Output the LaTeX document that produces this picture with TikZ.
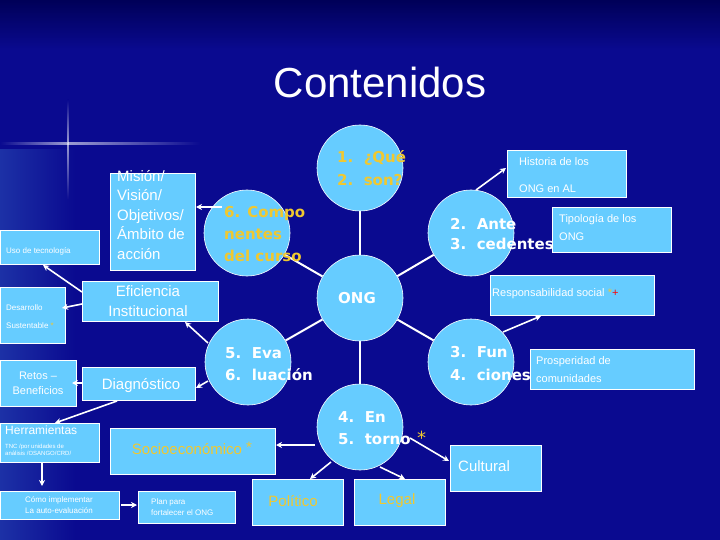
\documentclass[tikz,border=0pt]{standalone}
\usepackage{fontspec}
\setmainfont{DejaVu Sans}
\newfontfamily\lib{Liberation Sans}
\usetikzlibrary{arrows.meta}
\definecolor{navy}{HTML}{0A0A90}
\definecolor{navytop}{HTML}{000058}
\definecolor{lb}{HTML}{66CCFF}
\definecolor{yel}{HTML}{F0C830}
\tikzset{
 box/.style={fill=lb,draw=white,line width=0.6pt,anchor=north west,inner sep=0pt},
 circ/.style={circle,fill=lb,draw=white,line width=0.6pt,minimum size=86pt,inner sep=0pt},
 link/.style={draw=white,line width=2pt},
 arr/.style={draw=white,line width=1.6pt,-{Stealth[length=6pt,width=6pt]}},
 ctext/.style={text=white,font=\bfseries\fontsize{15}{18}\selectfont,anchor=west,inner sep=0pt},
 ytext/.style={ctext,text=yel},
 btext/.style={text=white,font=\lib\fontsize{8}{10}\selectfont,anchor=west,inner sep=0pt},
}
\newcommand{\bxx}[5]{\node[box,minimum width=#4-#2,minimum height=#5-#3] (#1) at (#2,#3) {};}
\begin{document}
\begin{tikzpicture}[x=1pt,y=-1pt]
\useasboundingbox (0,0) rectangle (720,540);
\fill[navy] (0,0) rectangle (720,540);
\shade[top color=navytop,bottom color=navy] (0,0) rectangle (720,50);
\shade[left color=navy!80!lb,right color=navy] (0,150) rectangle (75,540);
\shade[left color=navy,right color=white,opacity=0.6] (0,143) rectangle (68,144.2);
\shade[left color=white,right color=navy,opacity=0.6] (68,143) rectangle (200,144.2);
\shade[top color=navy,bottom color=white,opacity=0.6] (67.5,100) rectangle (68.7,143);
\shade[top color=white,bottom color=navy,opacity=0.6] (67.5,143) rectangle (68.7,200);
\node[text=white,font=\lib\fontsize{42}{46}\selectfont] (title) at (380,82) {Contenidos};

% circles
\node[circ] (que) at (360,168) {};
\node[circ] (ong) at (360,298) {};
\node[circ] (ante) at (471,233) {};
\node[circ] (fun) at (471,362) {};
\node[circ] (torno) at (360,427) {};
\node[circ] (eva) at (248,362) {};
\node[circ] (compo) at (247,233) {};
\draw[link] (ong) -- (que);
\draw[link] (ong) -- (ante);
\draw[link] (ong) -- (fun);
\draw[link] (ong) -- (torno);
\draw[link] (ong) -- (compo);
\draw[link] (ong) -- (eva);

% boxes
\bxx{mision}{110}{173}{195}{270}
\bxx{uso}{0}{230}{99}{264}
\bxx{efi}{82}{281}{218}{321}
\bxx{des}{0}{287}{65}{343}
\bxx{retos}{0}{360}{76}{406}
\bxx{diag}{82}{367}{195}{400}
\bxx{herr}{0}{423}{99}{462}
\bxx{socio}{110}{428}{275}{474}
\bxx{como}{0}{491}{119}{519}
\bxx{plan}{138}{491}{235}{523}
\bxx{pol}{252}{479}{343}{525}
\bxx{legal}{354}{479}{445}{525}
\bxx{cult}{450}{445}{541}{491}
\bxx{hist}{507}{150}{626}{197}
\bxx{tipo}{552}{207}{671}{252}
\bxx{resp}{490}{275}{654}{315}
\bxx{pros}{530}{349}{694}{389}

% circle texts
\node[ytext] (t1) at (337,158) {1.\ \ ¿Qué};
\node[ytext] (t2) at (337,180) {2.\ \ son?};
\node[text=white,font=\bfseries\fontsize{15}{18}\selectfont] (tong) at (357,298) {ONG};
\node[ctext] (t3) at (450,224) {2.\ \ Ante};
\node[ctext] (t4) at (450,244) {3.\ \ cedentes};
\node[ctext] (t5) at (450,352) {3.\ \ Fun};
\node[ctext] (t6) at (450,375) {4.\ \ ciones};
\node[ctext] (t7) at (338,417) {4.\ \ En};
\node[ctext] (t8) at (338,439) {5.\ \ torno};
\node[text=yel,font=\fontsize{18}{18}\selectfont,anchor=west,inner sep=0pt] (st) at (417,438) {*};
\node[ctext] (t9) at (225,353) {5.\ \ Eva};
\node[ctext] (t10) at (225,375) {6.\ \ luación};
\node[ytext] (t11) at (224,213) {6. Compo};
\node[ytext] (t12) at (224,234) {nentes};
\node[ytext] (t13) at (224,256) {del curso};

% box texts
\node[text=white,font=\lib\fontsize{15}{19.5}\selectfont,align=left,anchor=north west,inner sep=0pt] (mt) at (117,170) {Misión/\\Visión/\\Objetivos/\\Ámbito de\\acción};
\node[btext] (ut) at (6,251) {Uso de tecnología};
\node[text=white,font=\lib\fontsize{15}{20}\selectfont,align=center] (et) at (148,301) {Eficiencia\\Institucional};
\node[btext] (dt1) at (6,308) {Desarrollo};
\node[btext] (dt2) at (6,326) {Sustentable \textcolor{yel}{*}};
\node[text=white,font=\lib\fontsize{11}{15}\selectfont,align=center] (rt) at (38,383) {Retos –\\Beneficios};
\node[text=white,font=\lib\fontsize{15}{18}\selectfont] (dgt) at (141,386) {Diagnóstico};
\node[text=white,font=\lib\fontsize{12}{14}\selectfont,anchor=west,inner sep=0pt] (ht) at (5,430) {Herramientas};
\node[text=white,font=\lib\fontsize{6}{7}\selectfont,align=left,anchor=north west,inner sep=0pt] (ht2) at (5,444) {TNC /por unidades de\\análisis /OSANGO/CRD/};
\node[text=yel,font=\lib\fontsize{15}{18}\selectfont] (st2) at (192,448) {Socioeconómico \raisebox{2pt}{*}};
\node[text=white,font=\lib\fontsize{8}{11}\selectfont,align=center] (ct) at (59,505) {Cómo implementar\\La auto-evaluación};
\node[text=white,font=\lib\fontsize{8}{11}\selectfont,align=left,anchor=west,inner sep=0pt] (pt) at (151,507) {Plan para\\fortalecer el ONG};
\node[text=yel,font=\lib\fontsize{15}{18}\selectfont] (polt) at (293,501) {Político};
\node[text=yel,font=\lib\fontsize{15}{18}\selectfont] (legt) at (397,501) {Legal};
\node[text=white,font=\lib\fontsize{15}{18}\selectfont,anchor=west,inner sep=0pt] (cut) at (458,466) {Cultural};
\node[btext,font=\lib\fontsize{11}{13}\selectfont] (hi1) at (519,162) {Historia de los};
\node[btext,font=\lib\fontsize{11}{13}\selectfont] (hi2) at (519,189) {ONG en AL};
\node[btext,font=\lib\fontsize{11}{13}\selectfont] (ti1) at (559,220) {Tipología de los};
\node[btext,font=\lib\fontsize{11}{13}\selectfont] (ti2) at (559,237) {ONG};
\node[btext,font=\lib\fontsize{11}{13}\selectfont] (re) at (492,294) {Responsabilidad social \textcolor{yel}{*}\textcolor{red}{+}};
\node[btext,font=\lib\fontsize{11}{13}\selectfont] (pr1) at (536,362) {Prosperidad de};
\node[btext,font=\lib\fontsize{11}{13}\selectfont] (pr2) at (536,379) {comunidades};

% arrow end points
\coordinate (a1s) at (222,207); \coordinate (a1e) at (196,207);
\coordinate (a2s) at (476,190); \coordinate (a2e) at (506,168);
\coordinate (a3s) at (503,332); \coordinate (a3e) at (541,316);
\coordinate (a4s) at (208,343); \coordinate (a4e) at (185,322);
\coordinate (a5s) at (82,292); \coordinate (a5e) at (43,265);
\coordinate (a6s) at (82,304); \coordinate (a6e) at (62,308);
\coordinate (a7s) at (208,381); \coordinate (a7e) at (196,388);
\coordinate (a8s) at (82,383); \coordinate (a8e) at (72,383);
\coordinate (a9s) at (117,401); \coordinate (a9e) at (55,423);
\coordinate (a10s) at (42,462); \coordinate (a10e) at (42,486);
\coordinate (a11s) at (121,505); \coordinate (a11e) at (137,505);
\coordinate (a12s) at (315,445); \coordinate (a12e) at (276,445);
\coordinate (a13s) at (331,462); \coordinate (a13e) at (310,479);
\coordinate (a14s) at (380,467); \coordinate (a14e) at (405,479);
\coordinate (a15s) at (410,438); \coordinate (a15e) at (449,461);
\foreach \i in {1,...,15} {\draw[arr] (a\i s) -- (a\i e);}
\end{tikzpicture}
\end{document}
